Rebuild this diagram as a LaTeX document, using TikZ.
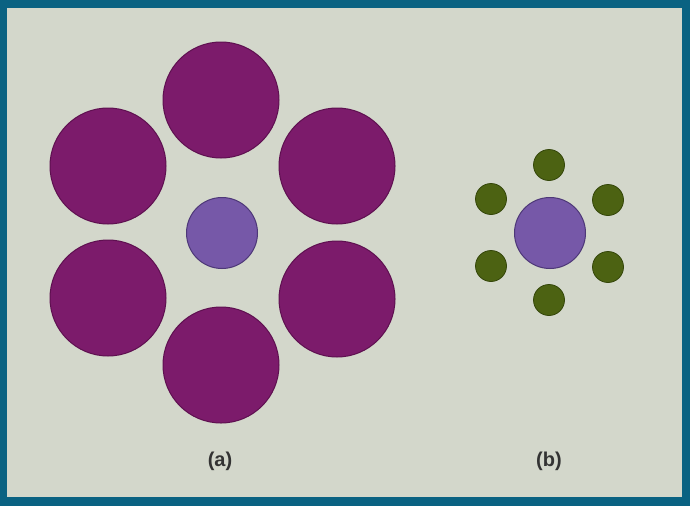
\documentclass[tikz,border=0pt]{standalone}
\usepackage{fontspec}
\setmainfont{Liberation Sans}
\definecolor{frame}{HTML}{0A6282}
\definecolor{paper}{HTML}{D3D7CB}
\definecolor{bigpurple}{HTML}{7C1B6B}
\definecolor{bigedge}{HTML}{5E1050}
\definecolor{lav}{HTML}{7658A8}
\definecolor{lavedge}{HTML}{4E3878}
\definecolor{olive}{HTML}{4C6212}
\definecolor{oliveedge}{HTML}{34460A}
\definecolor{labelgray}{HTML}{333333}
\begin{document}
\begin{tikzpicture}[x=1pt,y=-1pt,
  bigc/.style={circle,fill=bigpurple,draw=bigedge,line width=1pt,minimum size=116pt,inner sep=0pt},
  centerc/.style={circle,fill=lav,draw=lavedge,line width=1pt,minimum size=71pt,inner sep=0pt},
  smallc/.style={circle,fill=olive,draw=oliveedge,line width=0.8pt,minimum size=31pt,inner sep=0pt},
  lbl/.style={text=labelgray,font=\bfseries\fontsize{20}{22}\selectfont}]
\useasboundingbox (0,0) rectangle (690,506);
\fill[frame] (0,0) rectangle (690,506);
\fill[paper] (7,8) rectangle (682,497);
% (a)
\node[bigc] (a1) at (221,100) {};
\node[bigc] (a2) at (108,166) {};
\node[bigc] (a3) at (337,166) {};
\node[bigc] (a4) at (108,298) {};
\node[bigc] (a5) at (337,299) {};
\node[bigc] (a6) at (221,365) {};
\node[centerc] (ac) at (222,233) {};
% (b)
\node[centerc] (bc) at (550,233) {};
\node[smallc] (b1) at (549,165) {};
\node[smallc] (b2) at (491,199) {};
\node[smallc] (b3) at (608,200) {};
\node[smallc] (b4) at (491,266) {};
\node[smallc] (b5) at (608,267) {};
\node[smallc] (b6) at (549,300) {};
% labels
\node[lbl] (la) at (220,461) {(a)};
\node[lbl] (lb) at (549,461) {(b)};
\end{tikzpicture}
\end{document}
